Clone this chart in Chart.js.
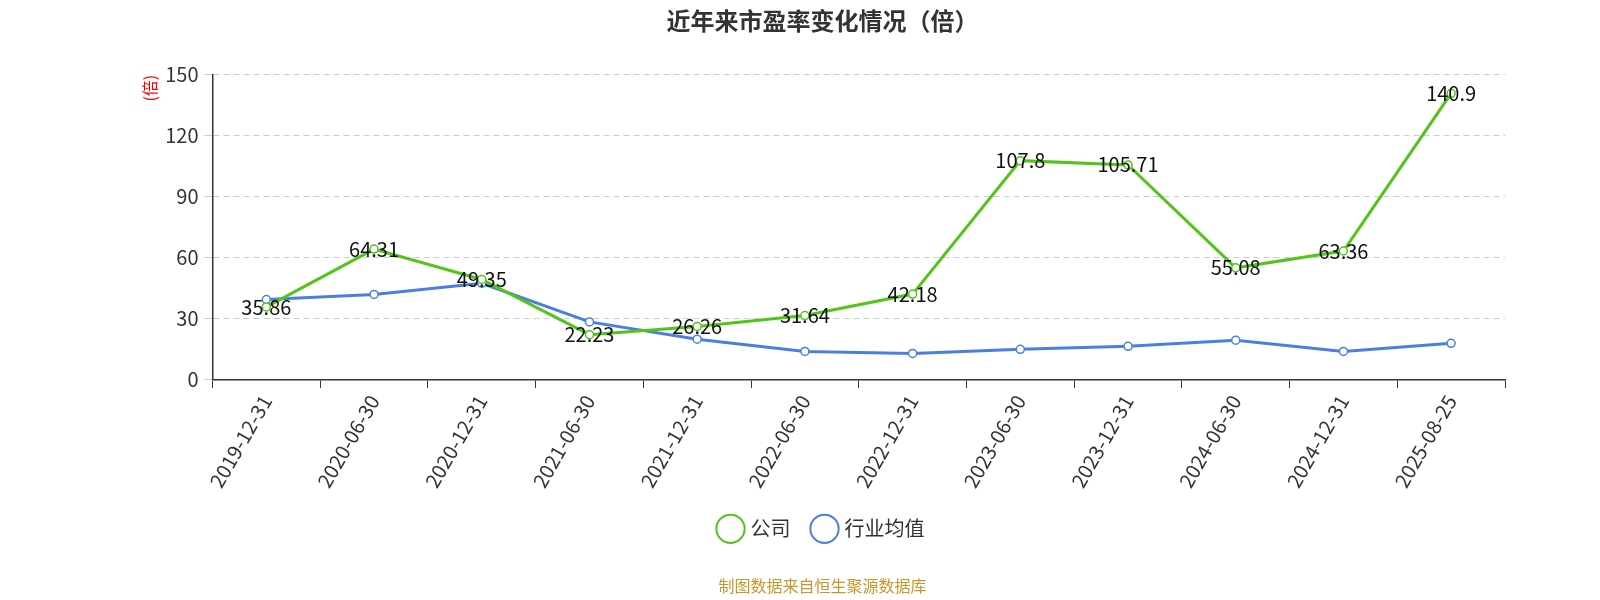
<!DOCTYPE html>
<html><head><meta charset="utf-8">
<script src="https://cdn.jsdelivr.net/npm/chart.js@4/dist/chart.umd.min.js"></script>
<style>body{margin:0;background:#fff}</style>
</head><body><canvas id="c" width="1600" height="600"></canvas>
<script>
const categories=["2019-12-31","2020-06-30","2020-12-31","2021-06-30","2021-12-31","2022-06-30","2022-12-31","2023-06-30","2023-12-31","2024-06-30","2024-12-31","2025-08-25"];
const companyPE=[35.86,64.31,49.35,22.23,26.26,31.64,42.18,107.8,105.71,55.08,63.36,140.9];
const industryPE=[39.5,42,47.5,28.5,20,14,13,15,16.5,19.5,14,18];
const yTicks=[0,30,60,90,120,150];
const F='"Noto Sans CJK SC","Noto Sans",sans-serif';
const labelPlugin={id:'lbl',afterDatasetsDraw(ch){const ctx=ch.ctx;const m=ch.getDatasetMeta(0);ctx.save();ctx.font='20px '+F;ctx.fillStyle='#111';ctx.textAlign='center';ctx.textBaseline='middle';
m.data.forEach((p,i)=>ctx.fillText(String(companyPE[i]),p.x,p.y));ctx.restore();}};
new Chart(document.getElementById('c'),{type:'line',
data:{labels:categories,datasets:[
{label:'公司',data:companyPE,borderColor:'#52c41a',backgroundColor:'#fff',borderWidth:3,pointRadius:4,pointBorderWidth:1.5,tension:0},
{label:'行业均值',data:industryPE,borderColor:'#4a7fe0',backgroundColor:'#fff',borderWidth:3,pointRadius:4,pointBorderWidth:1.5,tension:0}]},
plugins:[labelPlugin],
options:{responsive:false,animation:false,devicePixelRatio:1,
layout:{padding:{left:140,right:95,top:0,bottom:0}},
plugins:{title:{display:true,text:'近年来市盈率变化情况（倍）',font:{family:F,size:24,weight:'bold'},color:'#333',padding:{top:6,bottom:40}},
legend:{position:'bottom',labels:{font:{family:F,size:20},color:'#333',usePointStyle:true,boxWidth:20,boxHeight:20,padding:24,
generateLabels(ch){return ch.data.datasets.map((d,i)=>({text:d.label,fillStyle:'#fff',strokeStyle:d.borderColor,lineWidth:2,pointStyle:'circle',datasetIndex:i,fontColor:'#333'}));}}},
subtitle:{display:true,position:'bottom',text:'制图数据来自恒生聚源数据库',color:'#c8962a',font:{family:F,size:16},padding:{top:28,bottom:4}},
tooltip:{enabled:false}},
scales:{x:{offset:true,grid:{display:true,drawOnChartArea:false,offset:true,color:'#333',tickLength:8},border:{color:'#333',width:1.5},
ticks:{font:{family:F,size:20},color:'#333',maxRotation:60,minRotation:60}},
y:{min:0,max:150,afterBuildTicks(s){s.ticks=yTicks.map(v=>({value:v}));},
grid:{color:'#ccc',tickLength:8,drawTicks:true},border:{color:'#333',width:1.5,dash:[6,4]},
ticks:{font:{family:F,size:20},color:'#333',padding:6},
title:{display:true,text:'(倍)',color:'red',align:'end',font:{family:F,size:16},padding:0}}}}});
</script></body></html>
